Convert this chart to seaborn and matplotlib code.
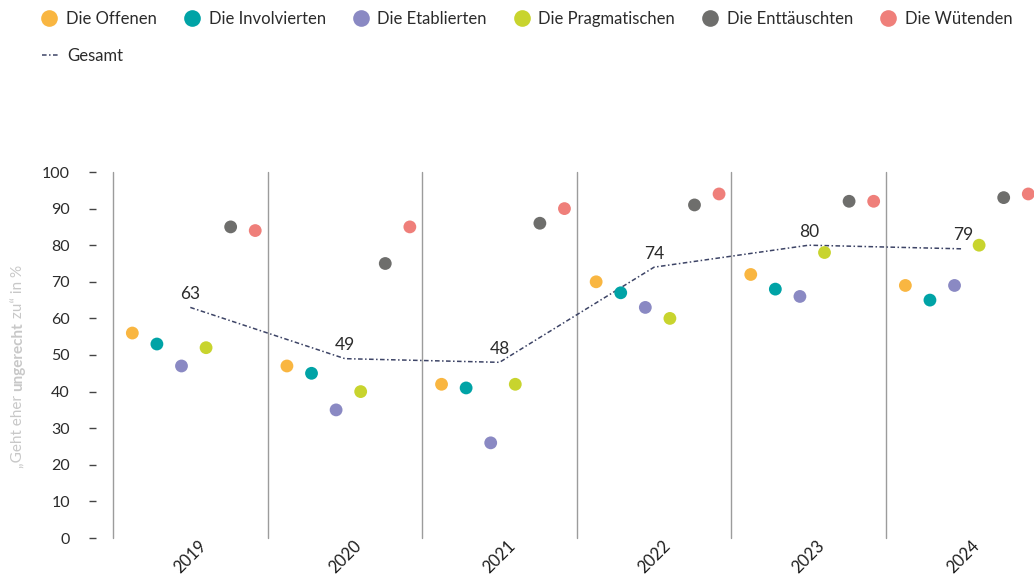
import numpy as np
import pandas as pd
import seaborn as sns
import matplotlib.pyplot as plt
from matplotlib.lines import Line2D

# data
years = ["2019", "2020", "2021", "2022", "2023", "2024"]
groups = ["Die Offenen", "Die Involvierten", "Die Etablierten",
          "Die Pragmatischen", "Die Enttäuschten", "Die Wütenden"]
colors = ["#F9B641", "#00A3A6", "#8A89C3", "#C8D42E", "#6E6E6C", "#EF7F7A"]

offenen = [56, 47, 42, 70, 72, 69]
involvierten = [53, 45, 41, 67, 68, 65]
etablierten = [47, 35, 26, 63, 66, 69]
pragmatischen = [52, 40, 42, 60, 78, 80]
enttaeuschten = [85, 75, 86, 91, 92, 93]
wuetenden = [84, 85, 90, 94, 92, 94]
gesamt = [63, 49, 48, 74, 80, 79]

series = [offenen, involvierten, etablierten, pragmatischen, enttaeuschten, wuetenden]

rows = []
for gi, (name, vals) in enumerate(zip(groups, series)):
    for yi, v in enumerate(vals):
        # each group gets its own slot inside the year column
        rows.append({"gruppe": name, "jahr": years[yi],
                     "x": yi - 0.375 + 0.159 * gi, "wert": v})
df = pd.DataFrame(rows)

sns.set_theme(style="white")
plt.rcParams["font.family"] = ["Lato", "DejaVu Sans"]

fig = plt.figure(figsize=(10.34, 5.77), dpi=100)
ax = fig.add_axes([113 / 1034, 39 / 577, (1034 - 113) / 1034, 366 / 577])

# separators between the years
for i in range(len(years) + 1):
    ax.axvline(i - 0.5, color="#9c9c9c", lw=1, clip_on=False, zorder=0)

sns.scatterplot(data=df, x="x", y="wert", hue="gruppe", palette=colors,
                s=85, linewidth=0, legend=False, ax=ax, zorder=3)

xs = np.arange(len(years))
sns.lineplot(x=xs, y=gesamt, color="#3D4466", lw=1.1,
             linestyle=(0, (3, 1.6, 1, 1.6)), ax=ax, zorder=2)
for i, v in enumerate(gesamt):
    ax.annotate(str(v), (i, v), xytext=(0, 4), textcoords="offset points",
                ha="center", va="bottom", fontsize=12.5, color="#2b2b2b")

ax.set_xlim(-0.5, 5.457)
ax.set_ylim(0, 100)
ax.set_xlabel("")
ax.set_ylabel("")
for s in ax.spines.values():
    s.set_visible(False)
ax.spines["left"].set_position(("outward", 12))

ax.set_yticks(range(0, 101, 10))
ax.tick_params(axis="y", left=True, length=5, width=1, color="#444444",
               pad=14, labelsize=11.5, labelcolor="#2b2b2b")
ax.set_xticks(xs)
ax.set_xticklabels(years, rotation=45, ha="center")
ax.tick_params(axis="x", length=0, pad=0, labelsize=12, labelcolor="#1e1e1e")

# y label with bold word
lab_color = "#c8c8c8"
fs_lab = 11
t1 = fig.text(18 / 1034, (577 - 468) / 577, "„Geht eher", rotation=90,
              ha="center", va="bottom", fontsize=fs_lab, color=lab_color)
t2 = ax.annotate("ungerecht", xy=(0.5, 1), xycoords=t1, xytext=(0, 3),
                 textcoords="offset points", rotation=90, ha="center",
                 va="bottom", fontsize=fs_lab, color=lab_color, weight="bold",
                 annotation_clip=False)
t3 = ax.annotate("zu“ in %", xy=(0.5, 1), xycoords=t2, xytext=(0, 3),
                 textcoords="offset points", rotation=90, ha="center",
                 va="bottom", fontsize=fs_lab, color=lab_color,
                 annotation_clip=False)

# legends
handles = [Line2D([], [], marker="o", ls="", color=c, markersize=12,
                  markeredgewidth=0) for c in colors]
leg1 = fig.legend(handles, groups, loc="upper left",
                  bbox_to_anchor=(41 / 1034, 1 - 11 / 577), ncol=6,
                  frameon=False, fontsize=12, handlelength=1.0,
                  handletextpad=0.5, columnspacing=1.6, borderpad=0,
                  borderaxespad=0)
for t in leg1.get_texts():
    t.set_color("#2b2b2b")
line_h = Line2D([], [], color="#3D4466", lw=1.1, linestyle=(0, (3, 1.6, 1, 1.6)))
leg2 = fig.legend([line_h], ["Gesamt"], loc="upper left",
                  bbox_to_anchor=(42 / 1034, 1 - 48 / 577), frameon=False,
                  fontsize=12, handlelength=1.0, handletextpad=0.5,
                  borderpad=0, borderaxespad=0)
for t in leg2.get_texts():
    t.set_color("#2b2b2b")

fig.savefig("out.png", dpi=100)
